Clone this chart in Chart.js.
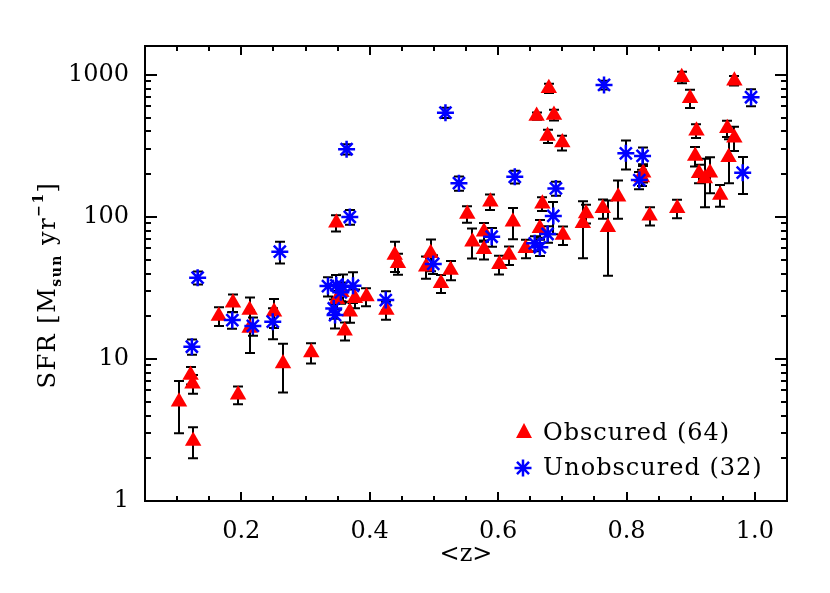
<!DOCTYPE html>
<html>
<head>
<meta charset="utf-8">
<script src="https://cdn.jsdelivr.net/npm/chart.js@4.4.0/dist/chart.umd.min.js"></script>
<style>
  body { margin: 0; background: #fff; }
  #wrap { width: 830px; height: 593px; }
</style>
</head>
<body>
<div id="wrap"><canvas id="sfrChart" width="830" height="593"></canvas></div>
<script>
// Obscured sources (red triangles): redshift, SFR, 1-sigma error
const obscuredZ = [0.103, 0.121, 0.124, 0.125, 0.165, 0.187, 0.195, 0.213, 0.213, 0.251, 0.265, 0.309,
    0.348, 0.349, 0.356, 0.361, 0.369, 0.377, 0.395, 0.426, 0.439, 0.444, 0.488, 0.495, 0.511, 0.526,
    0.552, 0.560, 0.578, 0.578, 0.588, 0.602, 0.617, 0.623, 0.643, 0.660, 0.665, 0.669, 0.677, 0.679,
    0.687, 0.700, 0.701, 0.732, 0.737, 0.763, 0.771, 0.787, 0.824, 0.826, 0.836, 0.879, 0.886, 0.899,
    0.907, 0.909, 0.913, 0.922, 0.930, 0.946, 0.957, 0.959, 0.968, 0.968];
const obscuredSfr = [5.0, 7.7, 6.7, 2.65, 20.1, 24.9, 5.6, 22.1, 16.5, 21.5, 9.3, 11.1,
    91, 26.3, 29.5, 15.8, 21.5, 26.8, 27.5, 22.1, 54, 47.2, 44.7, 55.5, 34.1, 42.4,
    105, 67, 78.8, 59.2, 128, 46.4, 54, 92.7, 60.2, 514, 83.3, 124, 372, 806,
    523, 334, 74.6, 90.3, 106, 115, 84.6, 139, 190, 205, 102, 115, 964, 686,
    269, 405, 203, 187, 205, 143, 421, 263, 362, 912];
const obscuredErr = [2.0, 1.1, 1.0, 0.65, 3, 3.5, 0.8, 5, 5.5, 5, 3.5, 1.8,
    12, 4, 4, 2.3, 3.5, 4, 4, 3.2, 13, 8, 8, 14, 5, 6.5,
    14, 16, 12, 9, 16, 7, 8, 23, 9, 30, 12, 14, 40, 60,
    45, 40, 11, 39, 16, 18, 46, 42, 25, 30, 15, 17, 90, 100,
    42, 45, 30, 70, 58, 25, 55, 90, 70, 70];

// Unobscured sources (blue asterisks)
const unobscuredZ = [0.123, 0.132, 0.186, 0.218, 0.249, 0.260, 0.335, 0.344, 0.346, 0.348, 0.355,
    0.358, 0.364, 0.369, 0.374, 0.425, 0.499, 0.518, 0.539, 0.590, 0.626, 0.657, 0.665, 0.677,
    0.686, 0.690, 0.765, 0.799, 0.820, 0.825, 0.981, 0.994];
const unobscuredSfr = [12.2, 37.4, 18.8, 17.1, 18.3, 57, 32.6, 22.7, 20.4, 33, 29.5,
    32.3, 300, 100, 32.8, 26, 46.7, 543, 173, 72.6, 192, 65.3, 61.2, 75.9,
    101.7, 159, 851, 281, 182, 269, 205, 697];
const unobscuredErr = [1.5, 4, 2.5, 2.5, 4.5, 10, 5, 3.5, 4, 6, 5,
    7, 25, 12, 8, 4, 7, 45, 20, 11, 20, 8, 8, 10,
    26, 18, 60, 65, 25, 40, 60, 95];

const xTicks = [0.2, 0.4, 0.6, 0.8, 1.0];
const yTicks = [1, 10, 100, 1000];

const legendLabels = ['Obscured (64)', 'Unobscured (32)'];
const serif = "'DejaVu Serif', 'Liberation Serif', serif";

// error bars drawn under the symbols
const errorBars = {
    id: 'errorBars',
    beforeDatasetsDraw(chart) {
        const { ctx, scales: { x, y } } = chart;
        ctx.save();
        ctx.strokeStyle = '#000';
        ctx.lineWidth = 2;
        const sets = [[obscuredZ, obscuredSfr, obscuredErr], [unobscuredZ, unobscuredSfr, unobscuredErr]];
        sets.forEach(([zs, vals, errs]) => {
            zs.forEach((z, i) => {
                const px = Math.round(x.getPixelForValue(z));
                const top = y.getPixelForValue(vals[i] + errs[i]);
                const bot = y.getPixelForValue(Math.max(vals[i] - errs[i], 1));
                ctx.beginPath();
                ctx.moveTo(px, top);
                ctx.lineTo(px, bot);
                ctx.moveTo(px - 5, top);
                ctx.lineTo(px + 5, top);
                ctx.moveTo(px - 5, bot);
                ctx.lineTo(px + 5, bot);
                ctx.stroke();
            });
        });
        ctx.restore();
    }
};

// frame, inward ticks on all sides, axis titles and legend
const frameAndText = {
    id: 'frameAndText',
    afterDraw(chart) {
        const { ctx, chartArea: a, scales: { x, y } } = chart;
        ctx.save();
        ctx.strokeStyle = '#000';
        ctx.lineWidth = 2;
        ctx.strokeRect(a.left, a.top, a.right - a.left, a.bottom - a.top);

        ctx.beginPath();
        for (let k = 1; k <= 21; k++) {
            const v = k * 0.05;
            const px = Math.round(x.getPixelForValue(v));
            const len = k % 4 === 0 ? 9 : 5;
            ctx.moveTo(px, a.bottom);
            ctx.lineTo(px, a.bottom - len);
            ctx.moveTo(px, a.top);
            ctx.lineTo(px, a.top + len);
        }
        for (let d = 0; d <= 3; d++) {
            for (let m = 1; m <= 9; m++) {
                const v = m * Math.pow(10, d);
                if (v > 1600) continue;
                const py = Math.round(y.getPixelForValue(v));
                const len = m === 1 ? 12 : 6;
                ctx.moveTo(a.left, py);
                ctx.lineTo(a.left + len, py);
                ctx.moveTo(a.right, py);
                ctx.lineTo(a.right - len, py);
            }
        }
        ctx.stroke();

        ctx.fillStyle = '#000';
        // x title
        ctx.font = `24px ${serif}`;
        ctx.textAlign = 'center';
        ctx.textBaseline = 'middle';
        ctx.fillText('<z>', (a.left + a.right) / 2, 555);

        // y title with sub/superscript
        const parts = [
            { t: 'SFR [M', f: `24px ${serif}`, dy: 0 },
            { t: 'sun', f: `bold 14px ${serif}`, dy: 6 },
            { t: ' yr', f: `24px ${serif}`, dy: 0 },
            { t: '\u22121', f: `bold 14px ${serif}`, dy: -12 },
            { t: ']', f: `24px ${serif}`, dy: 0 }
        ];
        ctx.letterSpacing = '1.5px';
        let total = 0;
        parts.forEach(p => { ctx.font = p.f; p.w = ctx.measureText(p.t).width; total += p.w; });
        ctx.translate(55, 285);
        ctx.rotate(-Math.PI / 2);
        ctx.textAlign = 'left';
        ctx.textBaseline = 'alphabetic';
        let cx = -total / 2;
        parts.forEach(p => {
            ctx.font = p.f;
            ctx.fillText(p.t, cx, p.dy);
            cx += p.w;
        });
        ctx.setTransform(1, 0, 0, 1, 0, 0);

        // legend
        ctx.fillStyle = '#ff0000';
        ctx.beginPath();
        ctx.moveTo(524, 423);
        ctx.lineTo(532, 438);
        ctx.lineTo(516, 438);
        ctx.closePath();
        ctx.fill();
        ctx.strokeStyle = '#0000ff';
        ctx.lineWidth = 2.5;
        ctx.beginPath();
        const r = 8.5, q = r * Math.SQRT1_2;
        ctx.moveTo(523, 468 - r); ctx.lineTo(523, 468 + r);
        ctx.moveTo(523 - r, 468); ctx.lineTo(523 + r, 468);
        ctx.moveTo(523 - q, 468 - q); ctx.lineTo(523 + q, 468 + q);
        ctx.moveTo(523 - q, 468 + q); ctx.lineTo(523 + q, 468 - q);
        ctx.stroke();
        ctx.fillStyle = '#000';
        ctx.font = `24px ${serif}`;
        ctx.letterSpacing = '1px';
        ctx.textAlign = 'left';
        ctx.fillText(legendLabels[0], 543, 440);
        ctx.fillText(legendLabels[1], 543, 475);
        ctx.restore();
    }
};

const obscuredPoints = obscuredZ.map((z, i) => ({ x: z, y: obscuredSfr[i] }));
const unobscuredPoints = unobscuredZ.map((z, i) => ({ x: z, y: unobscuredSfr[i] }));

new Chart(document.getElementById('sfrChart'), {
    type: 'scatter',
    data: {
        datasets: [{
            label: legendLabels[0],
            data: obscuredPoints,
            pointStyle: 'triangle',
            pointRadius: 9.5,
            pointHoverRadius: 9.5,
            backgroundColor: '#ff0000',
            borderColor: '#ff0000',
            borderWidth: 0,
            order: 1
        }, {
            label: legendLabels[1],
            data: unobscuredPoints,
            pointStyle: 'star',
            pointRadius: 8.5,
            pointHoverRadius: 8.5,
            backgroundColor: '#0000ff',
            borderColor: '#0000ff',
            borderWidth: 2.5,
            order: 0
        }]
    },
    options: {
        responsive: false,
        animation: false,
        layout: { padding: { top: 46, right: 43, left: 0, bottom: 0 } },
        plugins: { legend: { display: false }, tooltip: { enabled: false } },
        scales: {
            x: {
                type: 'linear',
                min: 0.05,
                max: 1.05,
                grid: { display: false },
                border: { display: false },
                afterBuildTicks: s => { s.ticks = xTicks.map(v => ({ value: v })); },
                afterFit: s => { s.height = 92; },
                ticks: {
                    padding: 8,
                    maxRotation: 0,
                    autoSkip: false,
                    color: '#000',
                    font: { family: serif, size: 24 },
                    callback: v => v.toFixed(1)
                }
            },
            y: {
                type: 'logarithmic',
                min: 1,
                max: 1600,
                grid: { display: false },
                border: { display: false },
                afterBuildTicks: s => { s.ticks = yTicks.map(v => ({ value: v })); },
                afterFit: s => { s.width = 145; },
                ticks: {
                    padding: 8,
                    autoSkip: false,
                    color: '#000',
                    font: { family: serif, size: 24 },
                    callback: v => String(v)
                }
            }
        }
    },
    plugins: [errorBars, frameAndText]
});
</script>
</body>
</html>
